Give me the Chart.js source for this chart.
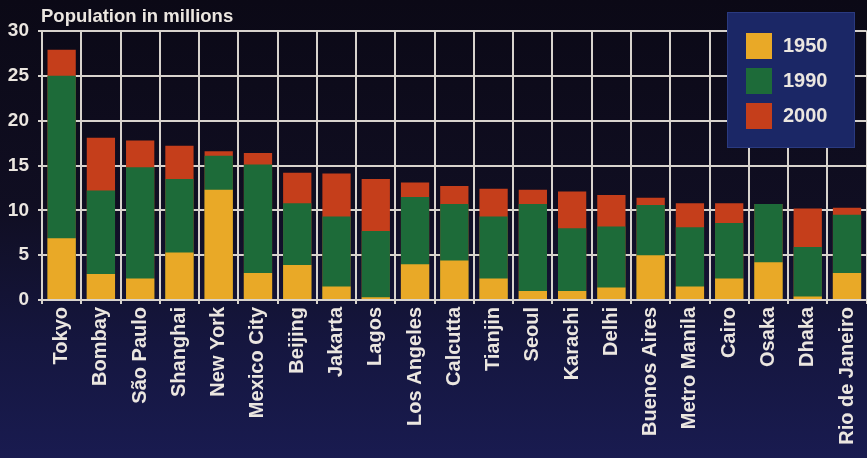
<!DOCTYPE html>
<html>
<head>
<meta charset="utf-8">
<script src="https://cdn.jsdelivr.net/npm/chart.js@4.4.1/dist/chart.umd.min.js"></script>
<style>
  html, body { margin: 0; padding: 0; overflow: hidden; }
  body {
    width: 867px; height: 458px;
    background: linear-gradient(to bottom, #0b0916 0%, #100e22 45%, #15163f 75%, #191b50 100%);
  }
  canvas { display: block; }
</style>
</head>
<body>
<canvas id="cityChart" width="874" height="458"></canvas>
<script>
// cities, population in millions
const cities = ['Tokyo', 'Bombay', 'São Paulo', 'Shanghai', 'New York', 'Mexico City', 'Beijing',
  'Jakarta', 'Lagos', 'Los Angeles', 'Calcutta', 'Tianjin', 'Seoul', 'Karachi', 'Delhi',
  'Buenos Aires', 'Metro Manila', 'Cairo', 'Osaka', 'Dhaka', 'Rio de Janeiro'];
const pop1950 = [6.9, 2.9, 2.4, 5.3, 12.3, 3.0, 3.9, 1.5, 0.3, 4.0, 4.4, 2.4, 1.0, 1.0, 1.4, 5.0, 1.5, 2.4, 4.2, 0.4, 3.0];
const pop1990 = [25.0, 12.2, 14.8, 13.5, 16.1, 15.1, 10.8, 9.3, 7.7, 11.5, 10.7, 9.3, 10.7, 8.0, 8.2, 10.6, 8.1, 8.6, 10.7, 5.9, 9.5];
const pop2000 = [27.9, 18.1, 17.8, 17.2, 16.6, 16.4, 14.2, 14.1, 13.5, 13.1, 12.7, 12.4, 12.3, 12.1, 11.7, 11.4, 10.8, 10.8, 10.7, 10.2, 10.3];
const years = ['1950', '1990', '2000'];
const yMin = 0, yMax = 30, yStep = 5;

const textColor = '#ebe6e0';
const gridColor = '#d8d3cd';
const fontFamily = '"Liberation Sans", Arial, Helvetica, sans-serif';

// title + floating legend box
const overlay = {
    id: 'overlay',
    afterDraw(chart) {
        const ctx = chart.ctx;
        ctx.save();
        ctx.fillStyle = textColor;
        ctx.font = 'bold 18.5px ' + fontFamily;
        ctx.textAlign = 'left';
        ctx.textBaseline = 'alphabetic';
        ctx.fillText('Population in millions', chart.chartArea.left - 1, 22);

        // legend
        ctx.fillStyle = '#1b2766';
        ctx.fillRect(727, 12, 128, 136);
        ctx.strokeStyle = '#2a3a80';
        ctx.lineWidth = 1;
        ctx.strokeRect(727.5, 12.5, 127, 135);
        ctx.font = 'bold 20px ' + fontFamily;
        ctx.textBaseline = 'middle';
        chart.data.datasets.forEach((ds, i) => {
            const top = 33 + i * 35;
            ctx.fillStyle = ds.backgroundColor;
            ctx.fillRect(746, top, 26, 26);
            ctx.fillStyle = textColor;
            ctx.fillText(ds.label, 783, top + 13);
        });
        ctx.restore();
    }
};

const ctx = document.getElementById('cityChart').getContext('2d');
new Chart(ctx, {
    type: 'bar',
    data: {
        labels: cities,
        datasets: [
            { label: years[0], data: pop1950, backgroundColor: '#e9a927' },
            { label: years[1], data: pop1990, backgroundColor: '#1d6b39' },
            { label: years[2], data: pop2000, backgroundColor: '#c53e1b' }
        ]
    },
    options: {
        responsive: false,
        animation: false,
        layout: { padding: { top: 31, right: 0, bottom: 0, left: 0 } },
        datasets: { bar: { categoryPercentage: 1, barPercentage: 0.72 } },
        plugins: {
            legend: { display: false },
            title: { display: false },
            tooltip: { enabled: false }
        },
        scales: {
            x: {
                stacked: true,
                grid: { color: gridColor, lineWidth: 2, offset: true, tickLength: 4 },
                border: { color: gridColor, width: 2 },
                ticks: {
                    autoSkip: false,
                    minRotation: 90,
                    maxRotation: 90,
                    padding: 3,
                    color: textColor,
                    font: { family: fontFamily, size: 20, weight: 'bold' }
                },
                afterFit(scale) { scale.height = 158; }
            },
            y: {
                stacked: false,
                min: yMin,
                max: yMax,
                grid: { color: gridColor, lineWidth: 2, tickLength: 4 },
                border: { color: gridColor, width: 2 },
                ticks: {
                    stepSize: yStep,
                    padding: 9,
                    color: textColor,
                    font: { family: fontFamily, size: 19, weight: 'bold' }
                },
                afterFit(scale) { scale.width = 42; }
            }
        }
    },
    plugins: [overlay]
});
</script>
</body>
</html>
